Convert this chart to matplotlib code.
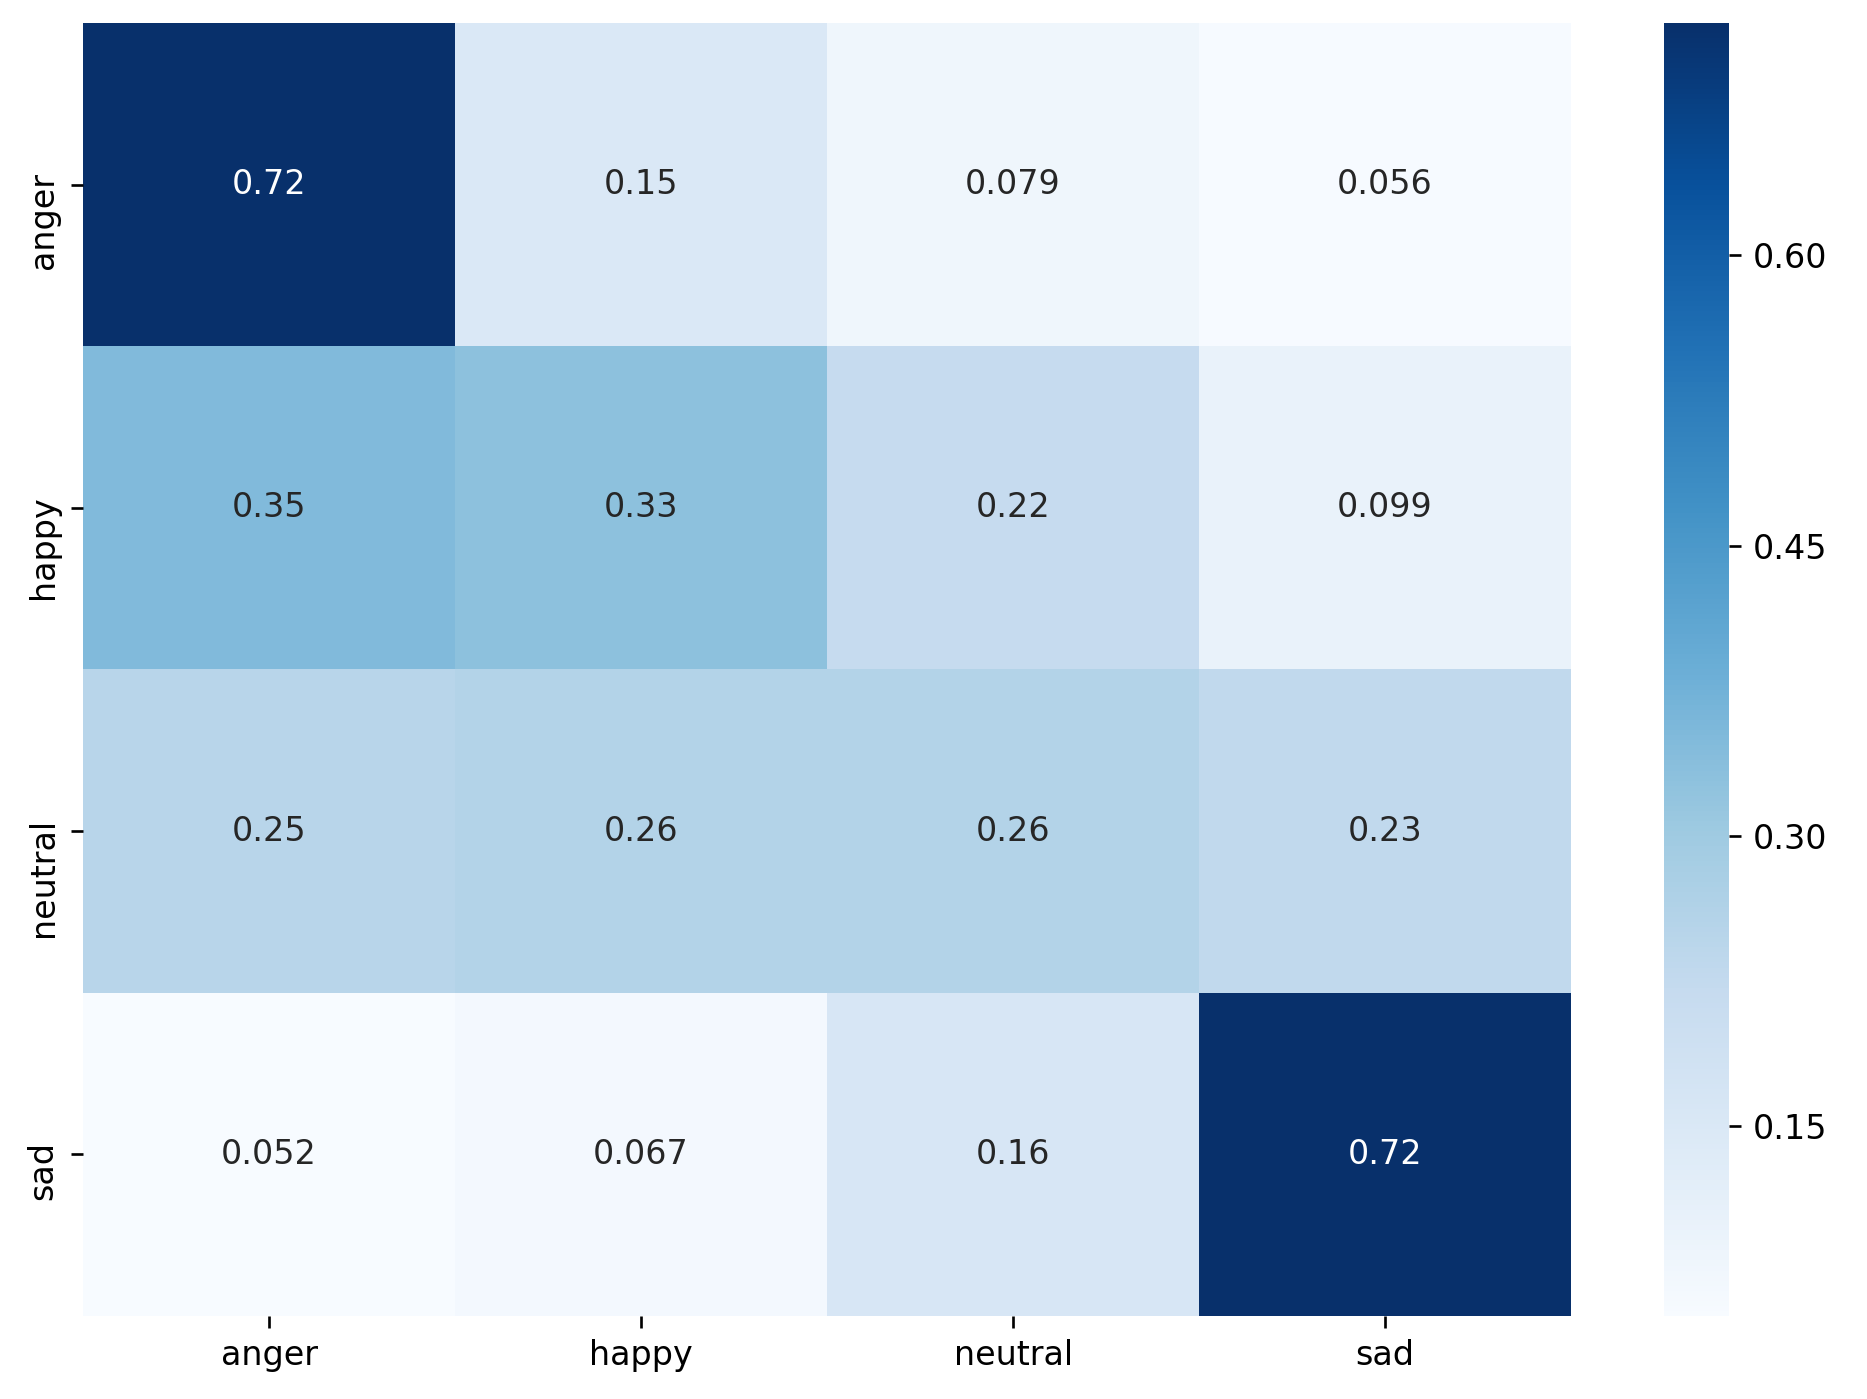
import numpy as np
import seaborn as sns
import matplotlib
matplotlib.use("Agg")
import matplotlib.pyplot as plt

# etiquetas das classes
classes = ['anger', 'happy', 'neutral', 'sad']

# matriz de confusao normalizada por linha
linha_anger = [0.72, 0.15, 0.079, 0.056]
linha_happy = [0.35, 0.33, 0.22, 0.099]
linha_neutral = [0.25, 0.26, 0.26, 0.23]
linha_sad = [0.052, 0.067, 0.16, 0.72]

# ticks da barra de cores
cbar_ticks = [0.15, 0.30, 0.45, 0.60]

cm = np.array([linha_anger, linha_happy, linha_neutral, linha_sad])

dpi = 240
fig = plt.figure(figsize=(1867 / dpi, 1399 / dpi))
ax = fig.add_axes([0.0445, 0.0593, 0.797, 0.9243])
cax = fig.add_axes([0.8913, 0.0593, 0.0348, 0.9243])

sns.heatmap(cm, annot=True, cmap='Blues', xticklabels=classes, yticklabels=classes,
            ax=ax, cbar_ax=cax, cbar_kws={'ticks': cbar_ticks, 'format': '%.2f'})
# rotulos do eixo y como no original (alinhamento padrao do matplotlib)
plt.setp(ax.get_yticklabels(), va='center_baseline')
cax.tick_params(labelsize=10)
fig.savefig('out.png', dpi=dpi)
